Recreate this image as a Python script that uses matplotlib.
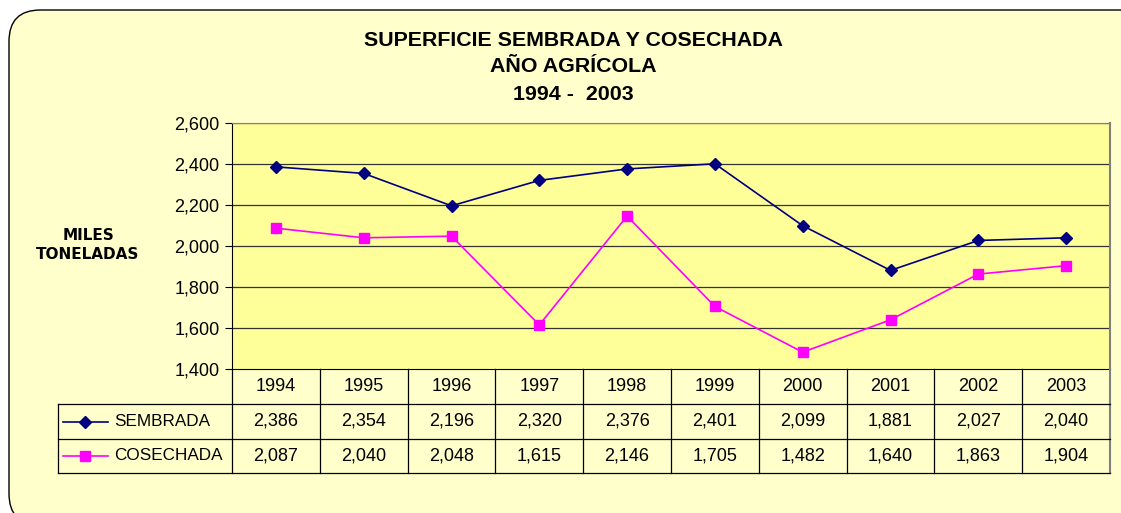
import matplotlib
matplotlib.use("Agg")
import matplotlib.pyplot as plt
from matplotlib.patches import FancyBboxPatch

years = ["1994", "1995", "1996", "1997", "1998", "1999", "2000", "2001", "2002", "2003"]
sembrada = [2386, 2354, 2196, 2320, 2376, 2401, 2099, 1881, 2027, 2040]
cosechada = [2087, 2040, 2048, 1615, 2146, 1705, 1482, 1640, 1863, 1904]
series_names = ["SEMBRADA", "COSECHADA"]
yticks = [1400, 1600, 1800, 2000, 2200, 2400, 2600]
title_lines = ["SUPERFICIE SEMBRADA Y COSECHADA", "AÑO AGRÍCOLA", "1994 -  2003"]
ylabel = "MILES\nTONELADAS"

plt.rcParams['font.family'] = ['Liberation Sans', 'DejaVu Sans']

W, H = 1121, 513
fig = plt.figure(figsize=(W / 100, H / 100), dpi=100)
fig.patch.set_facecolor("white")

def fx(px):
    return px / W

def fy(py):
    return 1 - py / H

# outer rounded box
box = FancyBboxPatch((fx(9), fy(525)), fx(1150) - fx(9), fy(10) - fy(525),
                     boxstyle="round,pad=0,rounding_size=0.028",
                     transform=fig.transFigure, facecolor="#FFFFCC",
                     edgecolor="black", linewidth=1.0,
                     mutation_aspect=W / H, zorder=-10)
fig.patches.append(box)

for txt, py in zip(title_lines, [40, 67, 95]):
    fig.text(fx(573), fy(py), txt, ha="center", va="center",
             fontsize=15.4, fontweight="bold")

# plot area
L, R, T, B = 232, 1110, 123, 369
FS = 13
ax = fig.add_axes([fx(L), fy(B), fx(R) - fx(L), fy(T) - fy(B)])
ax.set_facecolor("#FFFF99")
x = list(range(len(years)))
ax.plot(x, sembrada, color="#000080", marker="D", markersize=6.5, linewidth=1.2, zorder=3)
ax.plot(x, cosechada, color="#FF00FF", marker="s", markersize=7, linewidth=1.2, zorder=3)
ax.set_xlim(-0.5, len(years) - 0.5)
ax.set_ylim(yticks[0], yticks[-1])
ax.set_yticks(yticks)
ax.set_yticklabels([f"{v:,}" for v in yticks], fontsize=FS)
ax.set_xticks([])
for v in yticks[1:]:
    ax.axhline(v, color="#333333", linewidth=0.9, zorder=1)
ax.tick_params(axis="y", direction="out", length=5, width=0.8, pad=4)
ax.spines["left"].set_color("black")
ax.spines["bottom"].set_color("black")
ax.spines["top"].set_color("#808080")
ax.spines["right"].set_color("#808080")
ax.spines["right"].set_linewidth(1.5)

fig.text(fx(88), fy(245), ylabel, ha="center", va="center", fontsize=11,
         fontweight="bold", linespacing=1.3, family=["DejaVu Sans"])

# data table
TB = 473
tax = fig.add_axes([fx(L), fy(TB), fx(R) - fx(L), fy(B) - fy(TB)])
tax.set_xlim(-0.5, len(years) - 0.5)
tax.set_ylim(TB - B, 0)
tax.axis("off")
tax.patch.set_alpha(0)
colw = (R - L) / len(years)
legL = -0.5 + (58 - L) / colw
rows = [0, 35, 70, 104]
lw = 0.9
for i in range(len(years)):
    tax.plot([i - 0.5, i - 0.5], [rows[0], rows[3]], color="black", lw=lw, clip_on=False)
tax.plot([len(years) - 0.5] * 2, [rows[0], rows[3]], color="#808080", lw=1.5, clip_on=False)
tax.plot([legL, legL], [rows[1], rows[3]], color="black", lw=lw, clip_on=False)
for r in rows[1:]:
    tax.plot([legL, len(years) - 0.5], [r, r], color="black", lw=lw, clip_on=False)
for i, yv in enumerate(years):
    tax.text(i, (rows[0] + rows[1]) / 2, yv, ha="center", va="center", fontsize=FS)
for i, v in enumerate(sembrada):
    tax.text(i, (rows[1] + rows[2]) / 2, f"{v:,}", ha="center", va="center", fontsize=FS)
for i, v in enumerate(cosechada):
    tax.text(i, (rows[2] + rows[3]) / 2, f"{v:,}", ha="center", va="center", fontsize=FS)

sx0 = -0.5 + (63 - L) / colw
sx1 = -0.5 + (108 - L) / colw
sxm = (sx0 + sx1) / 2
tx = -0.5 + (114 - L) / colw
for (yc, col, mk, ms, name) in [((rows[1] + rows[2]) / 2, "#000080", "D", 6.5, series_names[0]),
                                ((rows[2] + rows[3]) / 2, "#FF00FF", "s", 7, series_names[1])]:
    tax.plot([sx0, sx1], [yc, yc], color=col, lw=1.2, clip_on=False)
    tax.plot([sxm], [yc], color=col, marker=mk, markersize=ms, clip_on=False)
    tax.text(tx, yc, name, ha="left", va="center", fontsize=12.3)

fig.savefig("out.png", dpi=100)
